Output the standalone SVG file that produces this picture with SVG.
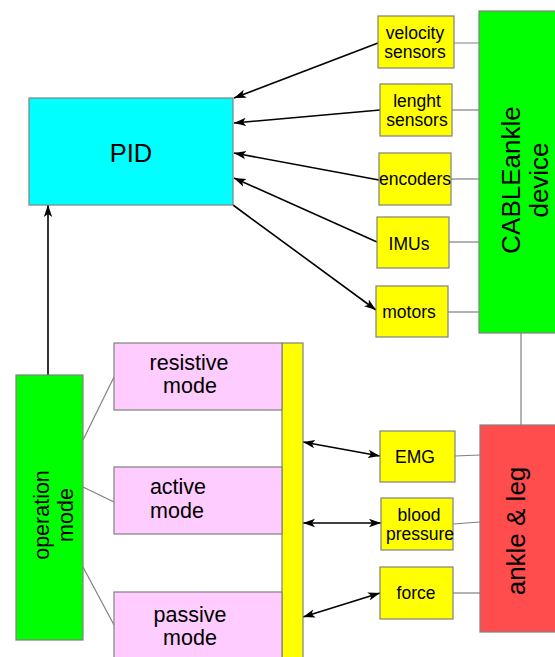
<svg xmlns="http://www.w3.org/2000/svg" width="555" height="657" viewBox="0 0 555 657">
<defs>
<style>
.box{stroke:#808080;stroke-width:1.2}
.y{fill:#ffff00}.g{fill:#00ff00}.c{fill:#00ffff}.p{fill:#ffccff}.r{fill:#ff4c4c}
.t{font-family:"Liberation Sans",Arial,sans-serif;fill:#000;text-anchor:middle}
.s17{font-size:17.5px}.s21{font-size:21.5px}.s26{font-size:26px}
.ln{stroke:#808080;stroke-width:1.2;fill:none}
.ar{stroke:#000;stroke-width:1.6;fill:none}
</style>
<marker id="ah" viewBox="0 0 12 10" refX="12" refY="5" markerWidth="12" markerHeight="10" markerUnits="userSpaceOnUse" orient="auto-start-reverse">
<path d="M0,0.8 L12,5 L0,9.2 L3,5 Z" fill="#000"/>
</marker>
</defs>
<rect width="555" height="657" fill="#fff"/>
<g id="connectors">
<line class="ln" x1="445" y1="43" x2="479" y2="43"/>
<line class="ln" x1="452" y1="110" x2="479" y2="110"/>
<line class="ln" x1="451" y1="179" x2="479" y2="179"/>
<line class="ln" x1="449" y1="242" x2="479" y2="242"/>
<line class="ln" x1="448" y1="312" x2="479" y2="312"/>
<line class="ln" x1="521" y1="333" x2="521" y2="425"/>
<line class="ln" x1="455" y1="456" x2="480" y2="455"/>
<line class="ln" x1="453" y1="524" x2="480" y2="522"/>
<line class="ln" x1="453" y1="593" x2="480" y2="593"/>
<line class="ln" x1="83" y1="440" x2="114" y2="377"/>
<line class="ln" x1="83" y1="487" x2="114" y2="502"/>
<line class="ln" x1="83" y1="567" x2="114" y2="625"/>
<line class="ar" x1="378" y1="43" x2="234" y2="98" marker-end="url(#ah)"/>
<line class="ar" x1="380" y1="110" x2="234" y2="123" marker-end="url(#ah)"/>
<line class="ar" x1="379" y1="180" x2="234" y2="153" marker-end="url(#ah)"/>
<line class="ar" x1="377" y1="242" x2="234" y2="178" marker-end="url(#ah)"/>
<line class="ar" x1="233" y1="205" x2="376" y2="310" marker-end="url(#ah)"/>
<line class="ar" x1="48" y1="375" x2="48" y2="205" marker-end="url(#ah)"/>
<line class="ar" x1="303" y1="442" x2="380" y2="456" marker-start="url(#ah)" marker-end="url(#ah)"/>
<line class="ar" x1="303" y1="523" x2="381" y2="523" marker-start="url(#ah)" marker-end="url(#ah)"/>
<line class="ar" x1="303" y1="617" x2="380" y2="593" marker-start="url(#ah)" marker-end="url(#ah)"/>
</g>
<g id="pid"><rect class="box c" x="29" y="98" width="204" height="107"/><text class="t" x="131" y="162" font-size="25.5">PID</text></g>
<g id="velocity"><rect class="box y" x="378" y="16" width="76" height="52"/><text class="t s17" x="415" y="39">velocity</text><text class="t s17" x="415" y="58">sensors</text></g>
<g id="lenght"><rect class="box y" x="380" y="84" width="72" height="52"/><text class="t s17" x="417" y="107">lenght</text><text class="t s17" x="417" y="126">sensors</text></g>
<g id="encoders"><rect class="box y" x="379" y="153" width="72" height="52"/><text class="t s17" x="415" y="185">encoders</text></g>
<g id="imus"><rect class="box y" x="377" y="217" width="72" height="51"/><text class="t s17" x="409" y="250">IMUs</text></g>
<g id="motors"><rect class="box y" x="376" y="286" width="72" height="51"/><text class="t s17" x="409" y="318">motors</text></g>
<g id="device"><rect class="box g" x="479" y="11" width="80" height="322"/><text class="t s26" transform="translate(520,180) rotate(-90)">CABLEankle</text><text class="t s26" transform="translate(548,180) rotate(-90)">device</text></g>
<g id="ankle"><rect class="box r" x="480" y="425" width="80" height="207"/><text class="t s26" transform="translate(525,531) rotate(-90)">ankle &amp; leg</text></g>
<g id="emg"><rect class="box y" x="380" y="431" width="75" height="51"/><text class="t s17" x="415" y="463">EMG</text></g>
<g id="blood"><rect class="box y" x="381" y="498" width="72" height="52"/><text class="t s17" x="419" y="521">blood</text><text class="t s17" x="420" y="540">pressure</text></g>
<g id="force"><rect class="box y" x="380" y="567" width="73" height="52"/><text class="t s17" x="416" y="599">force</text></g>
<g id="bar"><rect class="box y" x="282" y="343" width="21" height="320"/></g>
<g id="resistive"><rect class="box p" x="114" y="343" width="168" height="67"/><text class="t s21" x="189" y="370">resistive</text><text class="t s21" x="190" y="393">mode</text></g>
<g id="active"><rect class="box p" x="114" y="467" width="168" height="67"/><text class="t s21" x="178" y="494">active</text><text class="t s21" x="177" y="518">mode</text></g>
<g id="passive"><rect class="box p" x="114" y="592" width="168" height="70"/><text class="t s21" x="190" y="622">passive</text><text class="t s21" x="190" y="645">mode</text></g>
<g id="operation"><rect class="box g" x="16" y="375" width="67" height="265"/><text class="t s21" transform="translate(49,515) rotate(-90)">operation</text><text class="t s21" transform="translate(73,515) rotate(-90)">mode</text></g>
</svg>
